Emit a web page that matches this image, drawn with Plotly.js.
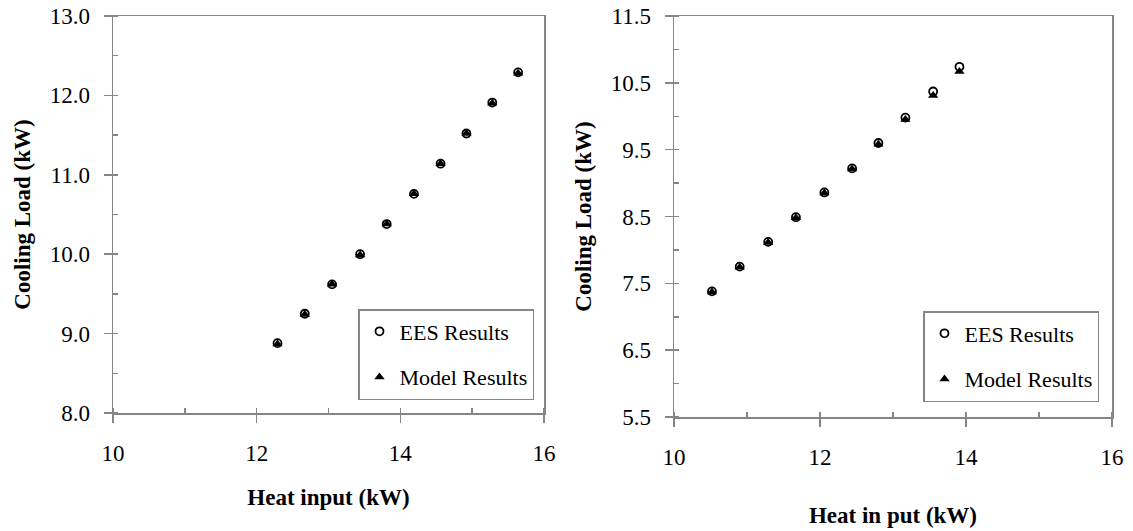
<!DOCTYPE html>
<html>
<head>
<meta charset="utf-8">
<script src="https://cdn.plot.ly/plotly-3.0.1.min.js"></script>
<style>html,body{margin:0;padding:0;background:#fff;}#chart{width:1133px;height:531px;}</style>
</head>
<body>
<div id="chart"></div>
<script>
// Left panel
const heatInputLeft = [12.29, 12.67, 13.05, 13.44, 13.81, 14.19, 14.56, 14.92, 15.28, 15.64];
const eesLeft       = [8.88, 9.25, 9.62, 10.00, 10.38, 10.76, 11.14, 11.52, 11.91, 12.29];
const modelLeft     = [8.87, 9.24, 9.62, 9.99, 10.38, 10.76, 11.14, 11.52, 11.90, 12.28];
// Right panel
const heatInputRight = [10.52, 10.90, 11.29, 11.67, 12.06, 12.44, 12.80, 13.17, 13.55, 13.91];
const eesRight       = [7.38, 7.75, 8.12, 8.49, 8.86, 9.22, 9.60, 9.98, 10.37, 10.74];
const modelRight     = [7.37, 7.74, 8.11, 8.48, 8.85, 9.21, 9.58, 9.95, 10.31, 10.67];

const seriesNames = ['EES Results', 'Model Results'];
const xTitles = ['Heat input (kW)', 'Heat in put (kW)'];
const yTitle = 'Cooling Load (kW)';

const FONT = '"Liberation Serif", "Times New Roman", Times, serif';
const AX = '#868686';

function circleTrace(x, y, xa, ya, lg) {
  return {x, y, xaxis: xa, yaxis: ya, type: 'scatter', mode: 'markers', name: seriesNames[0],
    legend: lg, legendgroup: lg + 'a',
    marker: {symbol: 'circle-open', size: 8, color: '#000', line: {width: 1.8, color: '#222'}}};
}
function triTrace(x, y, xa, ya, lg) {
  return {x, y, xaxis: xa, yaxis: ya, type: 'scatter', mode: 'markers', name: seriesNames[1],
    legend: lg, legendgroup: lg + 'b',
    marker: {symbol: 'triangle-up', size: 9, color: '#000'}};
}

const data = [
  circleTrace(heatInputLeft, eesLeft, 'x', 'y', 'legend'),
  triTrace(heatInputLeft, modelLeft, 'x', 'y', 'legend'),
  circleTrace(heatInputRight, eesRight, 'x2', 'y2', 'legend2'),
  triTrace(heatInputRight, modelRight, 'x2', 'y2', 'legend2')
];

function xAxis(domain, anchor, title, standoff) {
  return {domain, anchor, range: [10, 16], dtick: 2, tick0: 10,
    showline: true, linecolor: AX, linewidth: 1.5, mirror: true,
    ticks: 'outside', ticklen: 8, tickwidth: 1.5, tickcolor: AX,
    ticklabelstandoff: 11,
    minor: {ticks: 'inside', dtick: 1, ticklen: 5, tickwidth: 1.5, tickcolor: AX, showgrid: false},
    showgrid: false, zeroline: false, automargin: false,
    tickfont: {family: FONT, size: 23, color: '#000'},
    title: {text: title, standoff, font: {family: FONT, size: 23, color: '#000', weight: 'bold'}}};
}
function yAxis(domain, anchor, range, tick0) {
  return {domain, anchor, range, dtick: 1, tick0, tickformat: '.1f',
    showline: true, linecolor: AX, linewidth: 1.5, mirror: true,
    ticks: 'outside', ticklen: 8, tickwidth: 1.5, tickcolor: AX,
    ticklabelstandoff: 9,
    minor: {ticks: 'inside', dtick: 0.5, ticklen: 5, tickwidth: 1.5, tickcolor: AX, showgrid: false},
    showgrid: false, zeroline: false, automargin: false,
    tickfont: {family: FONT, size: 23, color: '#000'},
    title: {text: yTitle, standoff: 12, font: {family: FONT, size: 23, color: '#000', weight: 'bold'}}};
}

function legendBox(x, y) {
  return {x, y, xanchor: 'left', yanchor: 'top', xref: 'paper', yref: 'paper',
    bgcolor: '#fff', bordercolor: AX, borderwidth: 1.5,
    traceorder: 'grouped', tracegroupgap: 14, itemwidth: 30,
    font: {family: FONT, size: 22, color: '#000'}};
}

const layout = {
  width: 1133, height: 531,
  margin: {l: 0, r: 0, t: 0, b: 0},
  paper_bgcolor: '#fff', plot_bgcolor: '#fff',
  showlegend: true,
  font: {family: FONT, color: '#000'},
  xaxis: xAxis([113/1133, 544/1133], 'y', xTitles[0], 24),
  yaxis: yAxis([(531-413)/531, (531-16)/531], 'x', [8, 13], 8),
  xaxis2: xAxis([674/1133, 1112/1133], 'y2', xTitles[1], 38),
  yaxis2: yAxis([(531-417)/531, (531-16)/531], 'x2', [5.5, 11.5], 5.5),
  legend: legendBox(358/1133, (531-309)/531),
  legend2: legendBox(923/1133, (531-311)/531)
};

Plotly.newPlot('chart', data, layout, {staticPlot: true, displayModeBar: false});
</script>
</body>
</html>
